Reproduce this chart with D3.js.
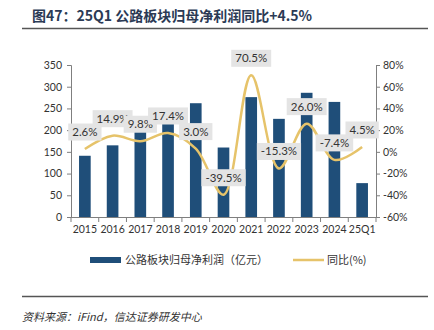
<!DOCTYPE html>
<html lang="zh">
<head>
<meta charset="UTF-8">
<script src="https://d3js.org/d3.v7.min.js"></script>
<style>
  body { margin: 0; background: #fff; }
  svg { display: block; font-family: "Noto Sans CJK SC", sans-serif; }
  .axis path, .axis line { stroke: #7f7f7f; }
  .axis text { font-family: Lato, "Noto Sans", sans-serif; font-size: 10.5px; fill: #333; }
  .lbl text { font-family: Lato, "Noto Sans", sans-serif; font-size: 11.5px; fill: #333; }
</style>
</head>
<body>
<div id="chart"></div>
<script>
const categories = ["2015","2016","2017","2018","2019","2020","2021","2022","2023","2024","25Q1"];
const profit = [141, 165, 196, 214, 262, 160, 276, 226, 286, 265, 78];
const yoy = [2.6, 14.9, 9.8, 17.4, 3.0, -39.5, 70.5, -15.3, 26.0, -7.4, 4.5];
const leftTicks = [0, 50, 100, 150, 200, 250, 300, 350];
const rightTicks = [-60, -40, -20, 0, 20, 40, 60, 80];

const W = 434, H = 330;
const plot = { left: 71, right: 376, top: 65, bottom: 217 };

const svg = d3.select("#chart").append("svg").attr("width", W).attr("height", H);

// title
svg.append("text")
  .attr("x", 32).attr("y", 21)
  .attr("font-size", 14).attr("font-weight", "bold").attr("fill", "#2b3a55")
  .text("图47：25Q1 公路板块归母净利润同比+4.5%");
svg.append("line").attr("x1", 22).attr("x2", 428).attr("y1", 28.5).attr("y2", 28.5)
  .attr("stroke", "#555").attr("stroke-width", 1.5);

const x = d3.scaleBand().domain(categories).range([plot.left, plot.right]).paddingInner(0).paddingOuter(0);
const yL = d3.scaleLinear().domain([0, 350]).range([plot.bottom, plot.top]);
const yR = d3.scaleLinear().domain([-60, 80]).range([plot.bottom, plot.top]);

// bars
const bw = x.bandwidth() * 0.42;
svg.append("g").selectAll("rect").data(categories).join("rect")
  .attr("x", d => x(d) + (x.bandwidth() - bw) / 2)
  .attr("y", (d, i) => yL(profit[i]))
  .attr("width", bw)
  .attr("height", (d, i) => yL(0) - yL(profit[i]))
  .attr("fill", "#1f4e79");

// axes
svg.append("g").attr("class", "axis")
  .attr("transform", `translate(${plot.left},0)`)
  .call(d3.axisLeft(yL).tickValues(leftTicks).tickSize(4).tickPadding(5));

svg.append("g").attr("class", "axis")
  .attr("transform", `translate(${plot.right},0)`)
  .call(d3.axisRight(yR).tickValues(rightTicks).tickSize(4).tickPadding(3).tickFormat(d => d + "%"));

const xAxis = svg.append("g").attr("class", "axis")
  .attr("transform", `translate(0,${plot.bottom})`)
  .call(d3.axisBottom(x).tickSize(0).tickPadding(9));
xAxis.select(".domain").attr("d", `M${plot.left},0.5H${plot.right}`);
// tick marks at category boundaries
xAxis.selectAll(".bound").data(d3.range(categories.length + 1)).join("line")
  .attr("class", "bound")
  .attr("x1", i => plot.left + i * x.bandwidth()).attr("x2", i => plot.left + i * x.bandwidth())
  .attr("y1", 0).attr("y2", 5);

// yoy line
const pts = categories.map((c, i) => [x(c) + x.bandwidth() / 2, yR(yoy[i])]);
svg.append("path")
  .attr("d", d3.line().curve(d3.curveCatmullRom.alpha(0.5))(pts))
  .attr("fill", "none").attr("stroke", "#e6c36a").attr("stroke-width", 2.5);

// data labels
const lbl = svg.append("g").attr("class", "lbl");
categories.forEach((c, i) => {
  const g = lbl.append("g").attr("transform", `translate(${pts[i][0]},${pts[i][1] - 17})`);
  const t = g.append("text").attr("text-anchor", "middle").attr("dy", "0.35em")
    .text(yoy[i].toFixed(1) + "%");
  const bb = t.node().getBBox();
  g.insert("rect", "text")
    .attr("x", bb.x - 4).attr("y", -8.5).attr("width", bb.width + 8).attr("height", 17)
    .attr("fill", "#e4e4e4");
});

// legend
const leg = svg.append("g").attr("font-size", 11).attr("fill", "#333");
leg.append("rect").attr("x", 90).attr("y", 257).attr("width", 31).attr("height", 6).attr("fill", "#1f4e79");
leg.append("text").attr("x", 125).attr("y", 264).text("公路板块归母净利润（亿元）");
leg.append("line").attr("x1", 293).attr("x2", 324).attr("y1", 260).attr("y2", 260)
  .attr("stroke", "#e6c36a").attr("stroke-width", 2.5);
leg.append("text").attr("x", 327).attr("y", 264).text("同比(%)");

// footer
svg.append("line").attr("x1", 22).attr("x2", 428).attr("y1", 296.5).attr("y2", 296.5)
  .attr("stroke", "#555").attr("stroke-width", 1.5);
svg.append("text").attr("x", 22).attr("y", 321)
  .attr("font-size", 11).attr("font-style", "italic").attr("fill", "#333")
  .text("资料来源：iFind，信达证券研发中心");
</script>
</body>
</html>
